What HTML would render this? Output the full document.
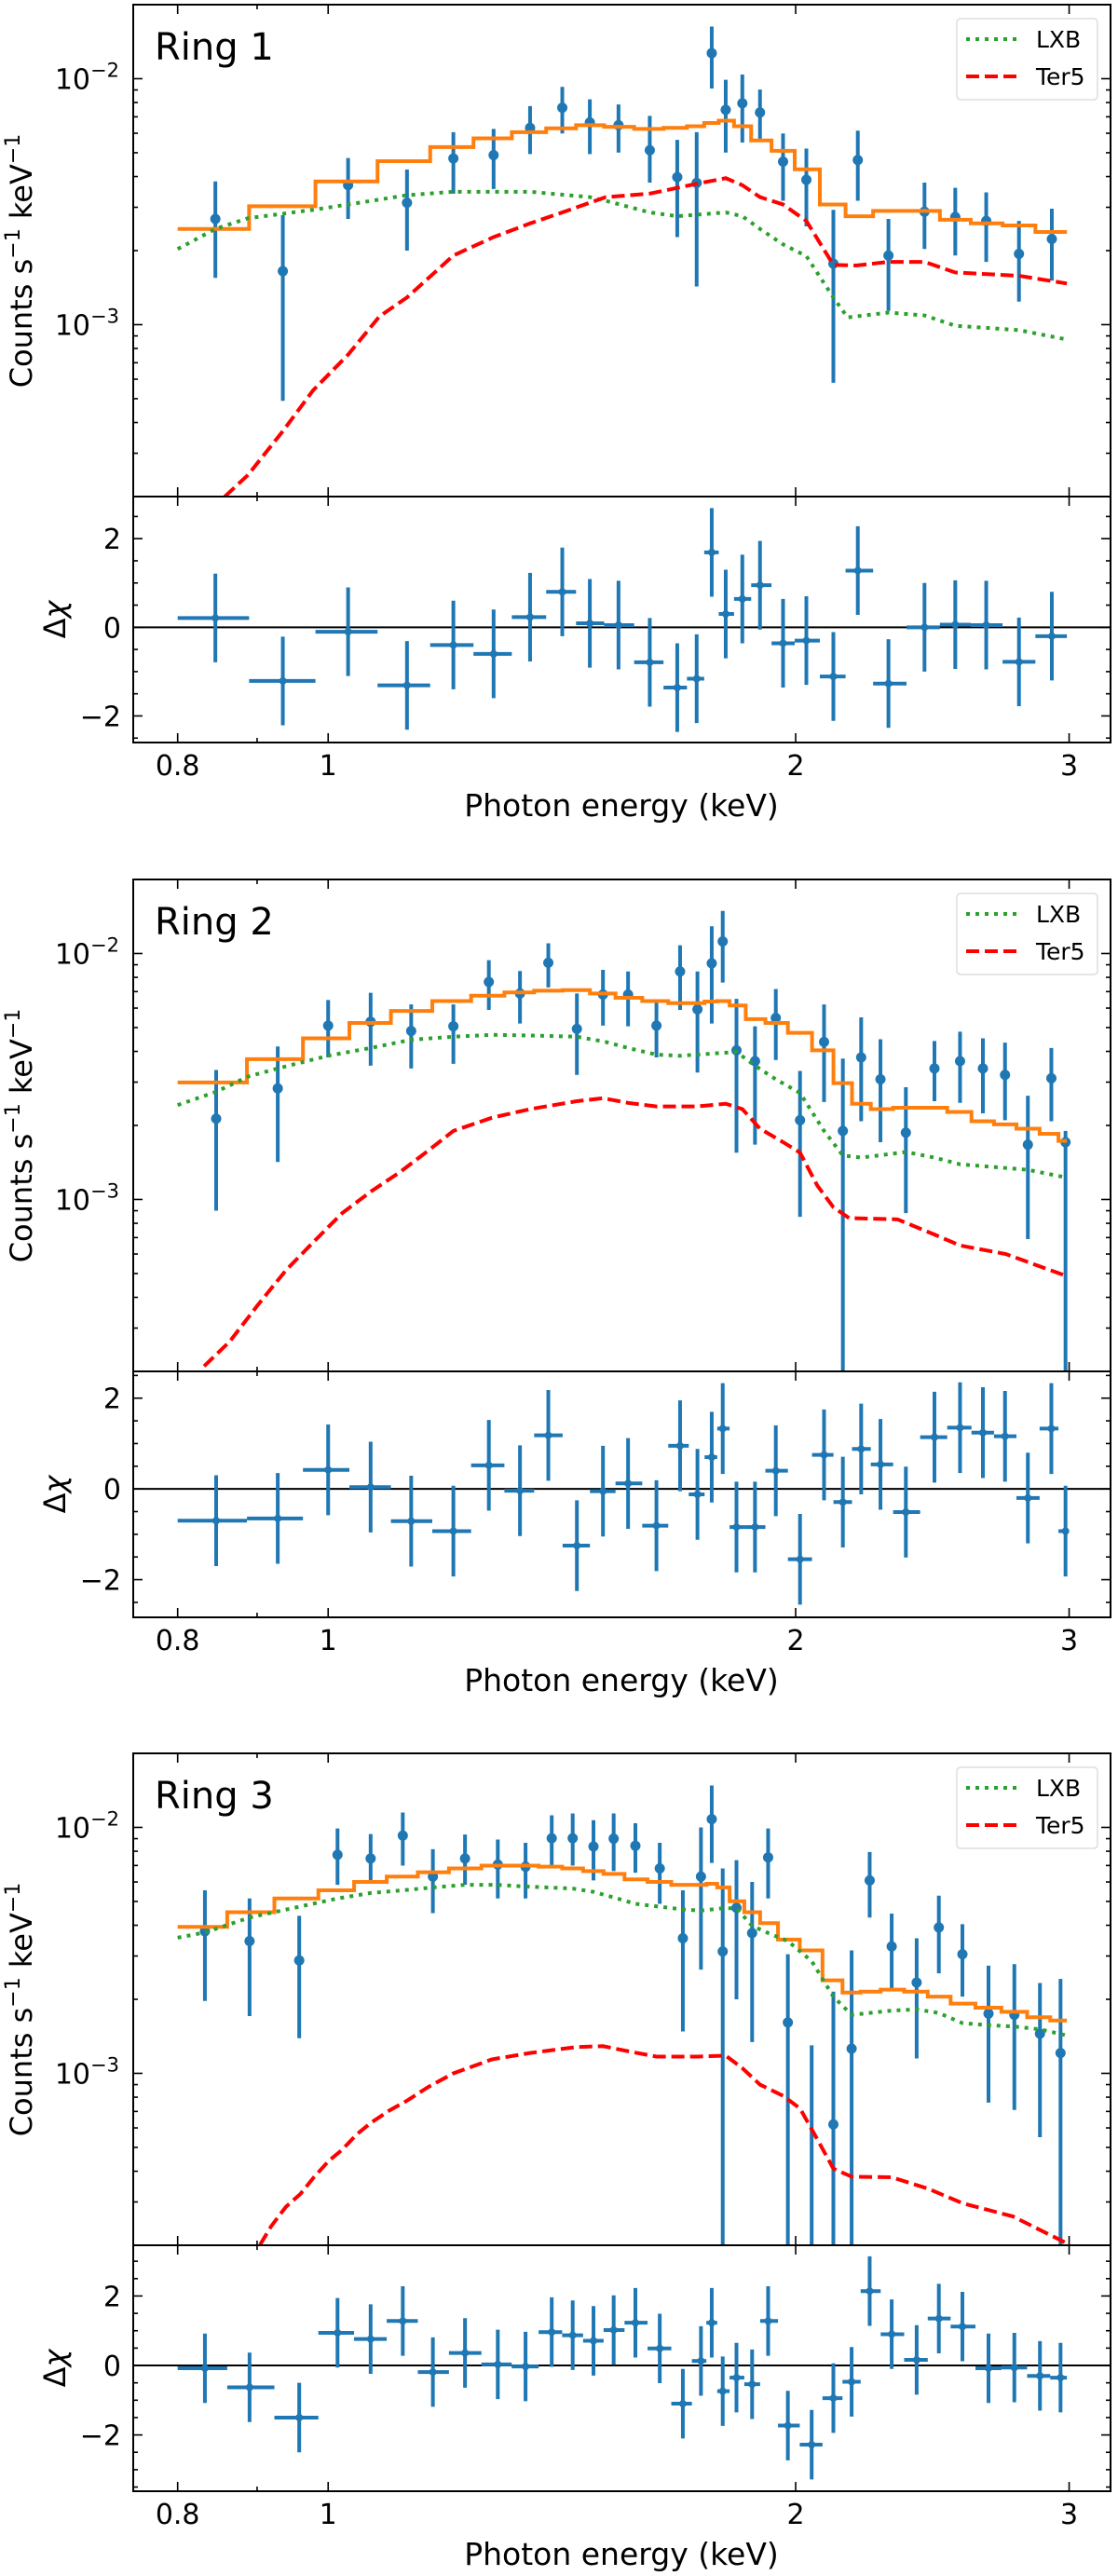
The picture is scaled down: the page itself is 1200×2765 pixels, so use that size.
<!DOCTYPE html>
<html><head><meta charset="utf-8"><style>
html,body{margin:0;padding:0;background:#fff;}
svg{display:block;font-family:"DejaVu Sans","Liberation Sans",sans-serif;}
</style></head><body>
<svg id="fig" xmlns="http://www.w3.org/2000/svg" width="1200" height="2765" viewBox="0 0 1200 2765">
<rect x="0" y="0" width="1200" height="2765" fill="#fff"/>
</svg>
<script>
// ---------- Ring 1 data (flux in 1e-3 counts/s/keV) ----------
const r1Energy=[0.846,0.935,1.030,1.124,1.204,1.278,1.349,1.415,1.474,1.538,1.611,1.678,1.727,1.766,1.803,1.848,1.897,1.963,2.032,2.115,2.193,2.295,2.421,2.534,2.653,2.785,2.924];
const r1Flux=[2.69,1.65,3.69,3.13,4.74,4.89,6.31,7.62,6.64,6.47,5.12,3.98,3.77,12.7,7.47,7.94,7.29,4.6,3.88,1.77,4.67,1.91,2.88,2.74,2.64,1.94,2.23];
const r1FluxHi=[3.82,2.79,4.76,4.27,6.06,6.25,7.74,9.26,8.24,7.86,7.06,5.64,6.06,16.3,9.9,10.4,9.03,5.99,5.2,2.93,6.15,2.69,3.78,3.6,3.45,2.64,2.96];
const r1FluxLo=[1.55,0.49,2.69,2.0,3.41,3.56,4.94,5.99,4.94,5.01,3.78,2.27,1.43,9.12,5.01,5.5,5.7,3.19,2.51,0.58,3.19,1.14,2.03,1.91,1.8,1.24,1.51];
const r1Resid=[0.21,-1.21,-0.1,-1.31,-0.4,-0.6,0.23,0.8,0.09,0.05,-0.79,-1.36,-1.16,1.69,0.3,0.64,0.95,-0.36,-0.3,-1.11,1.28,-1.27,0,0.06,0.05,-0.78,-0.2];
const r1Model=[2.45,3.03,3.82,4.62,5.27,5.72,6.06,6.28,6.47,6.37,6.25,6.31,6.41,6.61,6.75,6.41,5.61,5.09,4.28,3.08,2.76,2.9,2.9,2.67,2.58,2.53,2.38];
const r1LxbE=[0.80,0.846,0.888,0.978,1.03,1.124,1.204,1.278,1.349,1.474,1.509,1.611,1.678,1.803,1.848,1.897,1.963,2.032,2.115,2.16,2.295,2.421,2.534,2.785,2.99];
const r1LxbF=[2.03,2.45,2.71,2.93,3.08,3.36,3.47,3.47,3.47,3.3,3.19,2.86,2.76,2.86,2.76,2.45,2.12,1.9,1.29,1.07,1.12,1.09,0.99,0.95,0.87];
const r1TerE=[0.858,0.888,0.935,0.978,1.03,1.079,1.124,1.204,1.278,1.349,1.415,1.509,1.611,1.727,1.803,1.848,1.897,1.963,2.032,2.115,2.188,2.295,2.421,2.534,2.785,2.99];
const r1TerF=[0.2,0.245,0.369,0.541,0.755,1.08,1.29,1.91,2.27,2.58,2.86,3.3,3.41,3.74,3.94,3.69,3.3,3.08,2.64,1.75,1.74,1.8,1.8,1.63,1.58,1.47];
// ---------- Ring 2 data ----------
const r2Energy=[0.847,0.928,1.0,1.065,1.131,1.204,1.269,1.329,1.386,1.446,1.503,1.56,1.627,1.685,1.729,1.766,1.795,1.832,1.883,1.942,2.013,2.086,2.145,2.204,2.268,2.355,2.457,2.552,2.64,2.728,2.822,2.922,2.984];
const r2Flux=[2.13,2.83,5.09,5.28,4.84,5.06,7.66,6.88,9.17,4.94,6.81,6.81,5.09,8.45,5.93,9.12,11.2,4.04,3.65,5.47,2.1,4.37,1.9,3.78,3.08,1.87,3.41,3.65,3.41,3.21,1.67,3.11,1.71];
const r2FluxHi=[3.36,4.19,6.47,6.92,6.21,6.21,9.4,8.49,11.0,6.88,8.58,8.45,6.41,10.8,8.45,12.9,14.9,6.54,5.06,7.17,3.33,6.21,3.74,5.5,4.48,2.86,4.41,4.81,4.52,4.34,2.64,4.13,1.9];
const r2FluxLo=[0.90,1.42,3.78,3.5,3.41,3.56,5.9,5.19,7.28,3.21,5.09,5.06,3.78,5.9,3.28,5.19,7.62,1.55,1.67,3.69,0.85,2.49,0.1,2.08,1.71,0.88,2.51,2.47,2.24,2.1,0.69,2.08,0.1];
const r2Resid=[-0.7,-0.65,0.42,0.04,-0.71,-0.93,0.52,-0.04,1.18,-1.25,-0.05,0.12,-0.81,0.95,-0.12,0.7,1.33,-0.84,-0.84,0.4,-1.55,0.75,-0.29,0.88,0.54,-0.51,1.14,1.35,1.24,1.16,-0.2,1.33,-0.93];
const r2Model=[2.99,3.72,4.52,5.22,5.84,6.41,6.74,6.95,7.06,7.1,6.88,6.61,6.41,6.28,6.28,6.38,6.41,6.15,5.41,5.22,4.76,4.04,2.97,2.45,2.33,2.36,2.36,2.27,2.08,2.02,1.94,1.85,1.73];
const r2LxbE=[0.8,0.847,0.888,0.928,1.0,1.065,1.131,1.204,1.275,1.349,1.446,1.509,1.56,1.627,1.685,1.832,1.883,1.942,2.013,2.086,2.145,2.204,2.355,2.457,2.552,2.822,2.984];
const r2LxbF=[2.42,2.74,3.16,3.41,3.84,4.13,4.46,4.59,4.67,4.64,4.59,4.37,4.13,3.88,3.84,3.98,3.5,3.08,2.71,1.9,1.51,1.48,1.56,1.48,1.39,1.32,1.23];
const r2TerE=[0.832,0.864,0.9,0.939,0.979,1.021,1.066,1.112,1.16,1.204,1.275,1.349,1.446,1.503,1.56,1.627,1.729,1.803,1.848,1.897,1.963,2.013,2.065,2.115,2.165,2.326,2.457,2.552,2.731,2.984];
const r2TerF=[0.21,0.264,0.369,0.514,0.674,0.88,1.08,1.29,1.58,1.9,2.15,2.33,2.51,2.58,2.47,2.39,2.39,2.45,2.33,1.94,1.71,1.55,1.14,0.93,0.84,0.83,0.72,0.65,0.6,0.49];
// ---------- Ring 3 data ----------
const r3Energy=[0.833,0.89,0.958,1.014,1.065,1.117,1.168,1.225,1.286,1.34,1.393,1.437,1.482,1.527,1.577,1.635,1.692,1.738,1.766,1.795,1.832,1.875,1.92,1.977,2.048,2.115,2.173,2.232,2.306,2.393,2.473,2.561,2.662,2.766,2.873,2.962];
const r3Flux=[3.78,3.45,2.88,7.74,7.47,9.26,6.31,7.47,7.06,6.92,9.03,9.03,8.36,9.0,8.42,6.81,3.54,6.31,10.8,3.13,4.71,3.72,7.55,1.61,0.15,0.62,1.26,6.09,3.28,2.34,3.92,3.05,1.75,1.73,1.45,1.21];
const r3FluxHi=[5.55,5.14,4.37,9.9,9.4,11.5,8.15,9.35,8.93,8.66,11.2,11.4,10.7,11.4,10.4,8.66,5.55,10.0,14.8,6.81,7.36,6.0,9.9,3.05,1.3,2.15,3.16,7.94,4.46,3.54,5.28,4.04,2.74,2.78,2.33,2.42];
const r3FluxLo=[1.97,1.71,1.39,5.84,6.0,6.99,4.48,5.84,5.14,5.14,6.99,6.99,6.09,6.64,6.54,4.89,1.48,2.64,7.17,0.05,2.0,1.34,5.14,0.05,0.05,0.05,0.05,4.3,2.18,1.15,2.55,2.05,0.76,0.71,0.55,0.05];
const r3Resid=[-0.08,-0.63,-1.5,0.94,0.76,1.28,-0.19,0.36,0.03,-0.03,0.96,0.87,0.71,1.02,1.23,0.49,-1.1,0.13,1.23,-0.74,-0.35,-0.54,1.28,-1.73,-2.28,-0.94,-0.47,2.14,0.9,0.16,1.35,1.12,-0.08,-0.06,-0.3,-0.35];
const r3Model=[3.94,4.52,5.14,5.55,6.0,6.31,6.57,6.81,6.99,6.99,6.92,6.81,6.64,6.47,6.15,6.0,5.84,5.84,5.9,5.7,5.01,4.52,4.08,3.5,3.16,2.39,2.13,2.15,2.19,2.15,2.05,1.92,1.85,1.78,1.69,1.64];
const r3LxbE=[0.8,0.833,0.89,0.958,1.014,1.065,1.117,1.168,1.225,1.286,1.34,1.437,1.482,1.527,1.577,1.635,1.692,1.738,1.795,1.832,1.875,1.92,1.977,2.048,2.115,2.173,2.232,2.306,2.393,2.473,2.561,2.662,2.766,2.873,2.984];
const r3LxbF=[3.56,3.74,4.3,4.76,5.14,5.41,5.55,5.7,5.84,5.84,5.75,5.64,5.47,5.19,4.89,4.76,4.64,4.59,4.69,4.69,3.98,3.72,3.45,2.86,2.05,1.73,1.76,1.8,1.82,1.76,1.6,1.57,1.55,1.51,1.43];
const r3TerE=[0.904,0.919,0.939,0.96,0.979,1.001,1.021,1.043,1.066,1.095,1.124,1.16,1.204,1.275,1.349,1.446,1.503,1.56,1.627,1.729,1.803,1.848,1.897,1.963,2.013,2.065,2.115,2.173,2.306,2.433,2.563,2.76,2.984];
const r3TerF=[0.201,0.239,0.286,0.324,0.378,0.441,0.489,0.564,0.631,0.706,0.774,0.88,1.0,1.14,1.21,1.28,1.29,1.23,1.17,1.17,1.18,1.05,0.9,0.81,0.72,0.54,0.41,0.38,0.378,0.34,0.296,0.262,0.205];
// ---------- Axis tick values ----------
const xTickVals=[0.8,1,2,3];
const xTickLabels=["0.8","1","2","3"];
const xMinorVals=[0.9];
const yMajorExp=[-3,-2];
const resTickVals=[-2,0,2];
const resTickLabels=["\u22122","0","2"];
const ringNames=["Ring 1","Ring 2","Ring 3"];

const NS="http://www.w3.org/2000/svg";
const svg=document.getElementById('fig');
const X0=143,X1=1192,XMIN=0.749,XMAX=3.19;
const YT=5,YS=533,YB=797;
const LYMAX=Math.log10(2.0e-2),PXDEC=264;
function mk(tag,attrs,parent){const e=document.createElementNS(NS,tag);for(const k in attrs)e.setAttribute(k,attrs[k]);(parent||svg).appendChild(e);return e;}
function xs(E){return X0+(Math.log10(E)-Math.log10(XMIN))/(Math.log10(XMAX)-Math.log10(XMIN))*(X1-X0);}

function drawRing(idx,o,E,F,Hi,Lo,R,M,lE,lF,tE,tF,rmin,rmax){
  const ym=f=>o+YT+(LYMAX-Math.log10(f*1e-3))*PXDEC;
  const yr=r=>o+YS+(rmax-r)/(rmax-rmin)*(YB-YS);
  const g=mk('g',{});
  
  
  const cid='clipm'+idx, rid='clipr'+idx;
  const defs=mk('defs',{},g);
  const cp=mk('clipPath',{id:cid},defs); mk('rect',{x:X0,y:o+YT,width:X1-X0,height:YS-YT},cp);
  const cr=mk('clipPath',{id:rid},defs); mk('rect',{x:X0,y:o+YS,width:X1-X0,height:YB-YS},cr);
  const n=E.length, edges=[0.8];
  for(let i=1;i<n;i++) edges.push(Math.sqrt(E[i-1]*E[i]));
  edges.push(2.99);
  const dg=mk('g',{'clip-path':'url(#'+cid+')'},g);
  
  
  for(let i=0;i<n;i++){
    const x=xs(E[i]);
    const l=mk('line',{x1:x,x2:x,y1:ym(Hi[i]),y2:ym(Lo[i]),stroke:'#1f77b4','stroke-width':4},dg);
    
    
    const c=mk('circle',{cx:x,cy:ym(F[i]),r:5.5,fill:'#1f77b4'},dg);
    
    
  }
  let d='M'+xs(edges[0])+' '+ym(M[0]);
  for(let i=0;i<n;i++){ d+=' L'+xs(edges[i])+' '+ym(M[i])+' L'+xs(edges[i+1])+' '+ym(M[i]); }
  const mp=mk('path',{d:d,fill:'none',stroke:'#ff7f0e','stroke-width':4,'clip-path':'url(#'+cid+')'},g);
  
  
  const lp=mk('polyline',{points:lE.map((e,i)=>xs(e)+','+ym(lF[i])).join(' '),fill:'none',stroke:'#2ca02c','stroke-width':4,'stroke-dasharray':'4 6','clip-path':'url(#'+cid+')'},g);
  
  
  const tp=mk('polyline',{points:tE.map((e,i)=>xs(e)+','+ym(tF[i])).join(' '),fill:'none',stroke:'#ff0000','stroke-width':4,'stroke-dasharray':'14 6','clip-path':'url(#'+cid+')'},g);
  
  
  const zl=mk('line',{x1:X0,x2:X1,y1:yr(0),y2:yr(0),stroke:'#000','stroke-width':2},g);
  
  
  const rg=mk('g',{'clip-path':'url(#'+rid+')'},g);
  
  
  for(let i=0;i<n;i++){
    const x=xs(E[i]), y=yr(R[i]);
    const h=mk('line',{x1:xs(edges[i]),x2:xs(edges[i+1]),y1:y,y2:y,stroke:'#1f77b4','stroke-width':4},rg);
    
    
    const v=mk('line',{x1:x,x2:x,y1:yr(R[i]+1),y2:yr(R[i]-1),stroke:'#1f77b4','stroke-width':4},rg);
    
    
    const c=mk('circle',{cx:x,cy:y,r:4,fill:'#1f77b4'},rg);
    
    
  }
  const f1=mk('rect',{x:X0,y:o+YT,width:X1-X0,height:YS-YT,fill:'none',stroke:'#000','stroke-width':2},g);
  
  
  const f2=mk('rect',{x:X0,y:o+YS,width:X1-X0,height:YB-YS,fill:'none',stroke:'#000','stroke-width':2},g);
  
  
  const tk=mk('g',{stroke:'#000','stroke-width':1.6},g);
  
  
  const xt=xTickVals.map(v=>[v,10]).concat(xMinorVals.map(v=>[v,5]));
  xt.forEach(([v,L])=>{const x=xs(v);
    [[o+YT,1],[o+YS,-1],[o+YS,1],[o+YB,-1]].forEach(([y,s])=>{mk('line',{x1:x,x2:x,y1:y,y2:y+s*L},tk);});});
  for(let e=-4;e<=-2;e++){for(let m=1;m<10;m++){const v=m*Math.pow(10,e)*1e3; const y=ym(v);
    if(y<o+YT-0.5||y>o+YS+0.5)continue; const L=(m===1)?10:5;
    mk('line',{x1:X0,x2:X0+L,y1:y,y2:y},tk); mk('line',{x1:X1,x2:X1-L,y1:y,y2:y},tk);}}
  for(let r=Math.ceil(rmin*2)/2;r<=rmax;r+=0.5){const y=yr(r); const L=(Math.abs(r%2)<1e-6)?10:5;
    mk('line',{x1:X0,x2:X0+L,y1:y,y2:y},tk); mk('line',{x1:X1,x2:X1-L,y1:y,y2:y},tk);}
  xTickVals.forEach((v,i)=>{const t=mk('text',{x:xs(v),y:o+832,'font-size':30,'text-anchor':'middle',fill:'#000'},g);t.textContent=xTickLabels[i];
    
    });
  yMajorExp.forEach(e=>{const y=ym(Math.pow(10,e)*1e3);
    const t=mk('text',{x:128,y:y+11,'font-size':30,'text-anchor':'end',fill:'#000'},g);
    
    
    const a=mk('tspan',{},t);a.textContent='10';
    const b=mk('tspan',{'font-size':21,dy:-13},t);b.textContent='\u2212'+(-e);});
  resTickVals.forEach((v,i)=>{const t=mk('text',{x:130,y:yr(v)+11,'font-size':30,'text-anchor':'end',fill:'#000'},g);t.textContent=resTickLabels[i];
    
    });
  const xl=mk('text',{x:667,y:o+876,'font-size':33,'text-anchor':'middle',fill:'#000'},g);xl.textContent='Photon energy (keV)';
  
  
  const yl=mk('text',{x:0,y:0,'font-size':32,'text-anchor':'middle',fill:'#000',transform:'translate(34,'+(o+280)+') rotate(-90)'},g);
  
  
  const ya=mk('tspan',{},yl);ya.textContent='Counts s';
  const yb=mk('tspan',{'font-size':22,dy:-13},yl);yb.textContent='\u22121';
  const yc=mk('tspan',{dy:13},yl);yc.textContent=' keV';
  const yd=mk('tspan',{'font-size':22,dy:-13},yl);yd.textContent='\u22121';
  const rl=mk('text',{x:0,y:0,'font-size':32,'text-anchor':'middle',fill:'#000',transform:'translate(70,'+(o+665)+') rotate(-90)'},g);
  
  
  const r1=mk('tspan',{},rl);r1.textContent='\u0394';
  const r2=mk('tspan',{'font-style':'italic'},rl);r2.textContent='\u03C7';
  const rt=mk('text',{x:166,y:o+64,'font-size':40,fill:'#000'},g);rt.textContent=ringNames[idx];
  
  
  const lg=mk('g',{},g);
  
  
  mk('rect',{x:1027,y:o+20,width:151,height:87,rx:4,fill:'#fff',stroke:'#ddd','stroke-width':1.5},lg);
  const g1=mk('line',{x1:1037,x2:1091,y1:o+42,y2:o+42,stroke:'#2ca02c','stroke-width':4,'stroke-dasharray':'4 6'},lg);
  
  
  const l1=mk('text',{x:1112,y:o+51,'font-size':25,fill:'#000'},lg);l1.textContent='LXB';
  
  
  const g2=mk('line',{x1:1037,x2:1091,y1:o+82,y2:o+82,stroke:'#ff0000','stroke-width':4,'stroke-dasharray':'14 6'},lg);
  
  
  const l2=mk('text',{x:1112,y:o+91,'font-size':25,fill:'#000'},lg);l2.textContent='Ter5';
  
  
}
drawRing(0,0,r1Energy,r1Flux,r1FluxHi,r1FluxLo,r1Resid,r1Model,r1LxbE,r1LxbF,r1TerE,r1TerF,-2.6,2.95);
drawRing(1,939,r2Energy,r2Flux,r2FluxHi,r2FluxLo,r2Resid,r2Model,r2LxbE,r2LxbF,r2TerE,r2TerF,-2.83,2.59);
drawRing(2,1877,r3Energy,r3Flux,r3FluxHi,r3FluxLo,r3Resid,r3Model,r3LxbE,r3LxbF,r3TerE,r3TerF,-3.62,3.46);
</script>
</body></html>
